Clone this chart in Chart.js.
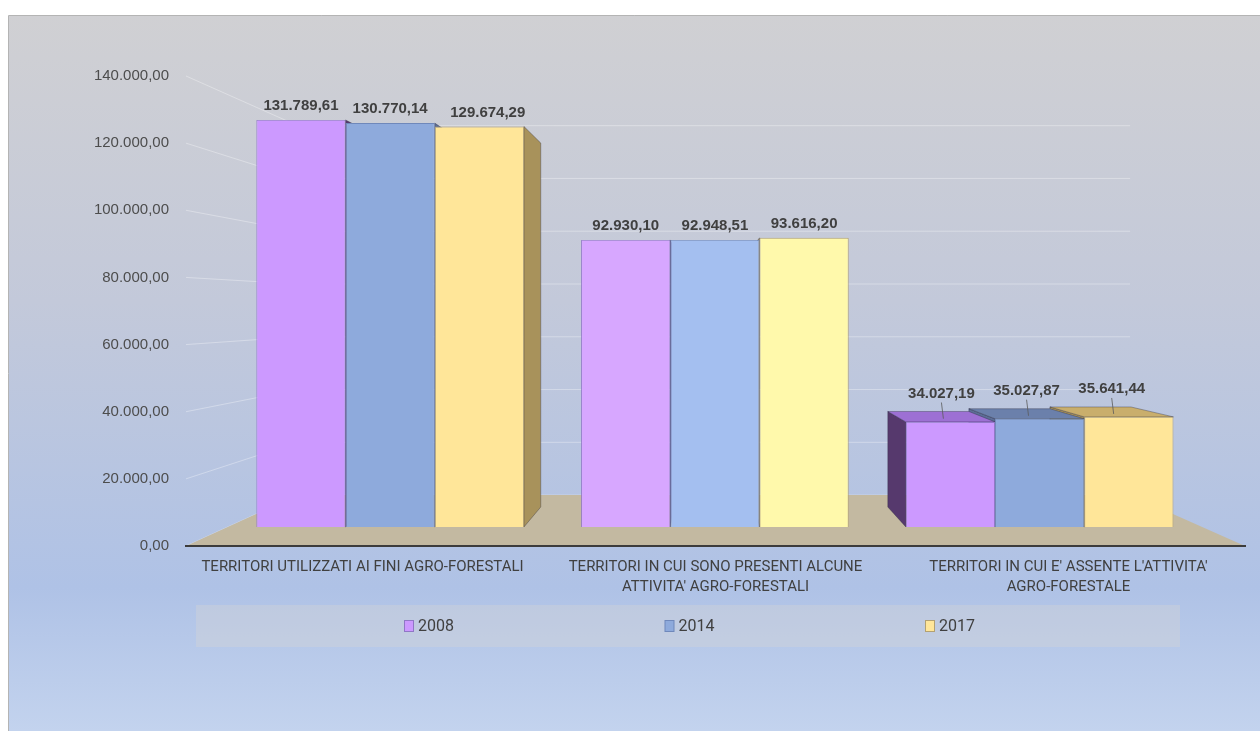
<!DOCTYPE html>
<html>
<head>
<meta charset="utf-8">
<script src="https://cdn.jsdelivr.net/npm/chart.js@4.4.1/dist/chart.umd.min.js"></script>
<style>
  html, body { margin: 0; padding: 0; background: #ffffff; }
  #wrap { width: 1260px; height: 731px; position: relative; }
</style>
</head>
<body>
<div id="wrap"><canvas id="chart" width="1260" height="731"></canvas></div>
<script>
// ---- data ----
const categories = [
  'TERRITORI UTILIZZATI AI FINI AGRO-FORESTALI',
  ['TERRITORI IN CUI SONO PRESENTI ALCUNE', "ATTIVITA' AGRO-FORESTALI"],
  ["TERRITORI IN CUI E' ASSENTE L'ATTIVITA'", 'AGRO-FORESTALE']
];
const seriesNames = ['2008', '2014', '2017'];
const values2008 = [131789.61, 92930.10, 34027.19];
const values2014 = [130770.14, 92948.51, 35027.87];
const values2017 = [129674.29, 93616.20, 35641.44];
const yMin = 0;
const yMax = 140000;
const yStep = 20000;

// ---- styles ----
const frontColors = [
  ['#cc99ff', '#d7a7ff', '#cc99ff'],
  ['#8eaadc', '#a4bff0', '#8eaadc'],
  ['#ffe699', '#fff9ab', '#ffe699']
];
const edgeColors = ['#9077c6', '#6f88bb', '#b3a172'];
const sideColors = ['#56396d', '#5c6d95', '#a8925b'];
const topColors  = ['#9d70d4', '#6b80ab', '#c9ae6c'];
const swatchColors = ['#cc99ff', '#8eaadc', '#ffe699'];

const SANS = '"Liberation Sans", Arial, sans-serif';
const LABEL_FONT = 'Roboto, "Liberation Sans", sans-serif';

// perspective: depth factors relative to the front plane of the axes
const depth = { barFront: 0.92, barBack: 0.836, wall: 0.786, vpX: 0.493, vpY: 0.494 };

function fmt(v) {
  const parts = Math.abs(v).toFixed(2).split('.');
  return (v < 0 ? '-' : '') + parts[0].replace(/\B(?=(\d{3})+(?!\d))/g, '.') + ',' + parts[1];
}

function vanishing(chart) {
  const a = chart.chartArea;
  return {
    x: a.left + depth.vpX * (a.right - a.left),
    y: a.top + depth.vpY * (a.bottom - a.top)
  };
}

function project(vp, x, y, k) {
  return [vp.x + (x - vp.x) * k, vp.y + (y - vp.y) * k];
}

function poly(ctx, pts, fill, stroke) {
  ctx.beginPath();
  ctx.moveTo(pts[0][0], pts[0][1]);
  for (let i = 1; i < pts.length; i++) ctx.lineTo(pts[i][0], pts[i][1]);
  ctx.closePath();
  ctx.fillStyle = fill;
  ctx.fill();
  if (stroke) {
    ctx.strokeStyle = stroke;
    ctx.lineWidth = 1;
    ctx.stroke();
  }
}

// geometry of every bar as a box between the two bar depth planes
function barBoxes(chart) {
  const vp = vanishing(chart);
  const boxes = [];
  const nDs = chart.data.datasets.length;
  chart.data.datasets.forEach((ds, di) => {
    const meta = chart.getDatasetMeta(di);
    meta.data.forEach((el, j) => {
      const p = el.getProps(['x', 'y', 'base', 'width'], true);
      const XL = p.x - p.width / 2, XR = p.x + p.width / 2, YT = p.y, YB = p.base;
      const kF = depth.barFront, kB = depth.barBack;
      boxes.push({
        di, j, value: ds.data[j], cx: p.x,
        fTL: project(vp, XL, YT, kF), fTR: project(vp, XR, YT, kF),
        fBL: project(vp, XL, YB, kF), fBR: project(vp, XR, YB, kF),
        bTL: project(vp, XL, YT, kB), bTR: project(vp, XR, YT, kB),
        bBL: project(vp, XL, YB, kB), bBR: project(vp, XR, YB, kB),
        showLeft: XL > vp.x, showRight: XR < vp.x, showTop: YT > vp.y,
        outerLeft: di === 0, outerRight: di === nDs - 1
      });
    });
  });
  return { vp, boxes };
}

const scene3d = {
  id: 'scene3d',
  beforeDraw(chart) {
    const ctx = chart.ctx;
    const W = chart.width, H = chart.height;
    const a = chart.chartArea;
    ctx.save();
    // page and chart panel
    ctx.fillStyle = '#ffffff';
    ctx.fillRect(0, 0, W, H);
    const g = ctx.createLinearGradient(0, 15, 0, H);
    g.addColorStop(0, '#d0d0d3');
    g.addColorStop(0.4, '#c3c9da');
    g.addColorStop(0.8, '#afc2e6');
    g.addColorStop(1, '#c3d3ee');
    ctx.fillStyle = g;
    ctx.fillRect(9, 15, W - 9, H - 15);
    ctx.strokeStyle = '#b4b4b4';
    ctx.lineWidth = 1;
    ctx.beginPath();
    ctx.moveTo(8.5, H);
    ctx.lineTo(8.5, 15.5);
    ctx.lineTo(W, 15.5);
    ctx.stroke();

    // wall gridlines: side wall from the axis to the back corner, then along the back wall
    const vp = vanishing(chart);
    const ys = chart.scales.y;
    ctx.strokeStyle = 'rgba(255,255,255,0.33)';
    ctx.lineWidth = 1;
    ys.ticks.forEach(t => {
      const Y = ys.getPixelForValue(t.value);
      const bl = project(vp, a.left, Y, depth.wall);
      const br = project(vp, a.right, Y, depth.wall);
      ctx.beginPath();
      ctx.moveTo(a.left, Y);
      ctx.lineTo(bl[0], bl[1]);
      ctx.lineTo(br[0], br[1]);
      ctx.stroke();
    });

    // floor
    const Y0 = ys.getPixelForValue(0);
    poly(ctx, [
      [a.left, Y0], [a.right, Y0],
      project(vp, a.right, Y0, depth.wall),
      project(vp, a.left, Y0, depth.wall)
    ], '#c3b9a1');
    ctx.restore();
  },
  beforeDatasetsDraw(chart) {
    const ctx = chart.ctx;
    const { vp, boxes } = barBoxes(chart);
    ctx.save();
    // hidden faces first: farther from the vanishing point first
    boxes.slice().sort((p, q) => Math.abs(q.cx - vp.x) - Math.abs(p.cx - vp.x)).forEach(b => {
      const edge = 'rgba(40,40,60,0.35)';
      if (b.showLeft) poly(ctx, [b.fTL, b.bTL, b.bBL, b.fBL], sideColors[b.di], edge);
      if (b.showRight) poly(ctx, [b.fTR, b.bTR, b.bBR, b.fBR], sideColors[b.di], edge);
      if (b.showTop) poly(ctx, [b.fTL, b.fTR, b.bTR, b.bTL], topColors[b.di], edge);
    });
    ctx.restore();
    // front faces are drawn by the bar controller on the bars' front plane
    ctx.save();
    ctx.translate(vp.x, vp.y);
    ctx.scale(depth.barFront, depth.barFront);
    ctx.translate(-vp.x, -vp.y);
  },
  afterDatasetsDraw(chart) {
    const ctx = chart.ctx;
    ctx.restore();
    const { boxes } = barBoxes(chart);
    ctx.save();
    ctx.font = 'bold 15px ' + SANS;
    ctx.fillStyle = '#404040';
    ctx.textAlign = 'center';
    ctx.textBaseline = 'middle';
    boxes.forEach(b => {
      const xs = [b.fTL[0], b.fTR[0]];
      const ysv = [b.fTL[1]];
      if (b.showLeft && b.outerLeft) { xs.push(b.bTL[0]); ysv.push(b.bTL[1]); }
      if (b.showRight && b.outerRight) { xs.push(b.bTR[0]); ysv.push(b.bTR[1]); }
      if (b.showTop) { xs.push(b.bTL[0], b.bTR[0]); ysv.push(b.bTL[1], b.bTR[1]); }
      const lx = (Math.min(...xs) + Math.max(...xs)) / 2;
      const ly = Math.min(...ysv) - (b.showTop ? 18 : 14);
      if (b.showTop) {
        const cx = (b.fTL[0] + b.fTR[0] + b.bTL[0] + b.bTR[0]) / 4;
        const cy = (b.fTL[1] + b.fTR[1] + b.bTL[1] + b.bTR[1]) / 4;
        ctx.strokeStyle = '#5a5a5a';
        ctx.lineWidth = 0.8;
        ctx.beginPath();
        ctx.moveTo(lx, ly + 9);
        ctx.lineTo(cx + 4, cy + 2);
        ctx.stroke();
      }
      ctx.fillText(fmt(b.value), lx, ly);
    });
    ctx.restore();
  },
  afterDraw(chart) {
    // legend band with one swatch per series
    const ctx = chart.ctx;
    const L = chart.options.plugins.scene3d.legend;
    ctx.save();
    ctx.fillStyle = 'rgba(214,212,214,0.38)';
    ctx.fillRect(L.left, L.top, L.right - L.left, L.bottom - L.top);
    const cy = (L.top + L.bottom) / 2;
    ctx.font = '16px ' + LABEL_FONT;
    ctx.textBaseline = 'middle';
    ctx.textAlign = 'left';
    chart.data.datasets.forEach((ds, i) => {
      const x = L.firstX + i * L.spacing;
      ctx.fillStyle = swatchColors[i];
      ctx.fillRect(x + 0.5, cy - 5.5, 9, 11);
      ctx.strokeStyle = edgeColors[i];
      ctx.lineWidth = 1;
      ctx.strokeRect(x + 0.5, cy - 5.5, 9, 11);
      ctx.fillStyle = '#404040';
      ctx.fillText(ds.label, x + 14, cy + 1);
    });
    ctx.restore();
  }
};

const seriesValues = [values2008, values2014, values2017];

new Chart(document.getElementById('chart'), {
  type: 'bar',
  data: {
    labels: categories,
    datasets: seriesNames.map((name, i) => ({
      label: name,
      data: seriesValues[i],
      backgroundColor: frontColors[i],
      borderColor: edgeColors[i],
      borderWidth: 1,
      barPercentage: 1.0,
      categoryPercentage: 0.824
    }))
  },
  plugins: [scene3d],
  options: {
    responsive: false,
    animation: false,
    events: [],
    layout: { padding: { left: 0, right: 15, top: 76, bottom: 0 } },
    plugins: {
      legend: { display: false },
      tooltip: { enabled: false },
      scene3d: {
        legend: { left: 196, right: 1180, top: 605, bottom: 647, firstX: 404, spacing: 260.5 }
      }
    },
    scales: {
      x: {
        grid: { display: false, drawTicks: false },
        border: { display: true, color: '#3c3c3c', width: 2 },
        ticks: {
          padding: 11,
          color: '#404040',
          autoSkip: false,
          minRotation: 0,
          maxRotation: 0,
          font: { family: LABEL_FONT, size: 15, lineHeight: 1.33 }
        },
        afterFit(scale) { scale.height = 185; }
      },
      y: {
        min: yMin,
        max: yMax,
        grid: { display: false, drawTicks: false },
        border: { display: false },
        ticks: {
          stepSize: yStep,
          padding: 17,
          color: '#4d4d4d',
          font: { family: SANS, size: 15 },
          callback: v => fmt(v)
        },
        afterFit(scale) { scale.height = scale.height; scale.width = 186; }
      }
    }
  }
});
</script>
</body>
</html>
